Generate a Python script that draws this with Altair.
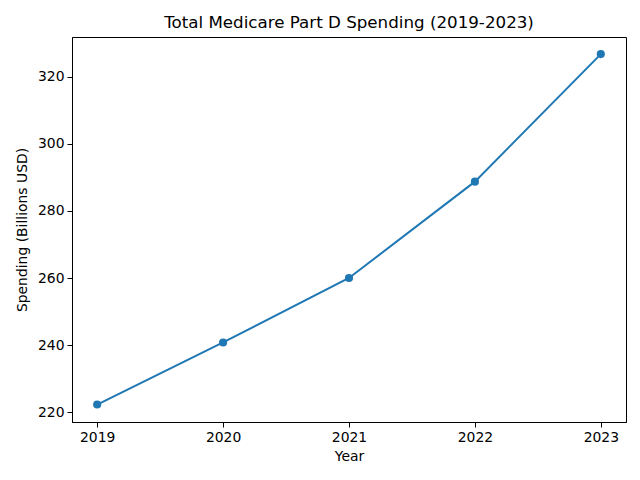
import altair as alt
import pandas as pd

years = [2019, 2020, 2021, 2022, 2023]
spending = [222.3, 240.8, 260.0, 288.7, 326.7]

df = pd.DataFrame({"Year": years, "Spending": spending})

FONT = "DejaVu Sans"
color = "#1f77b4"

x = alt.X("Year:Q",
          scale=alt.Scale(domain=[2018.8, 2023.2], nice=False, zero=False),
          axis=alt.Axis(title="Year", values=years, format="d", grid=False,
                        tickColor="black", domainColor="black", tickSize=5,
                        labelFontSize=13.9, titleFontSize=13.9, labelFont=FONT,
                        titleFont=FONT, labelColor="black", titleColor="black",
                        titleFontWeight="normal", labelPadding=3, titlePadding=6,
                        labelFlush=False))
y = alt.Y("Spending:Q",
          scale=alt.Scale(domain=[217.1, 331.8], nice=False, zero=False),
          axis=alt.Axis(title="Spending (Billions USD)", values=[220, 240, 260, 280, 300, 320],
                        grid=False, tickColor="black", domainColor="black", tickSize=5,
                        labelFontSize=13.9, titleFontSize=13.9, labelFont=FONT,
                        titleFont=FONT, labelColor="black", titleColor="black",
                        titleFontWeight="normal", labelPadding=3, titlePadding=8,
                        labelFlush=False))

line = alt.Chart(df).mark_line(color=color, strokeWidth=2).encode(x=x, y=y)
pts = alt.Chart(df).mark_point(color=color, filled=True, opacity=1, size=66).encode(x=x, y=y)

chart = (line + pts).properties(
    width=554, height=385,
    title=alt.TitleParams("Total Medicare Part D Spending (2019-2023)", font=FONT,
                          fontSize=16.7, fontWeight="normal", color="black",
                          anchor="middle", offset=5),
    autosize=alt.AutoSizeParams(type="none"),
    padding={"left": 72, "top": 37, "right": 14, "bottom": 58},
).configure(background="white").configure_view(stroke="black", strokeWidth=1)

chart.save("out.html", embed_options={"renderer": "svg", "actions": False})
